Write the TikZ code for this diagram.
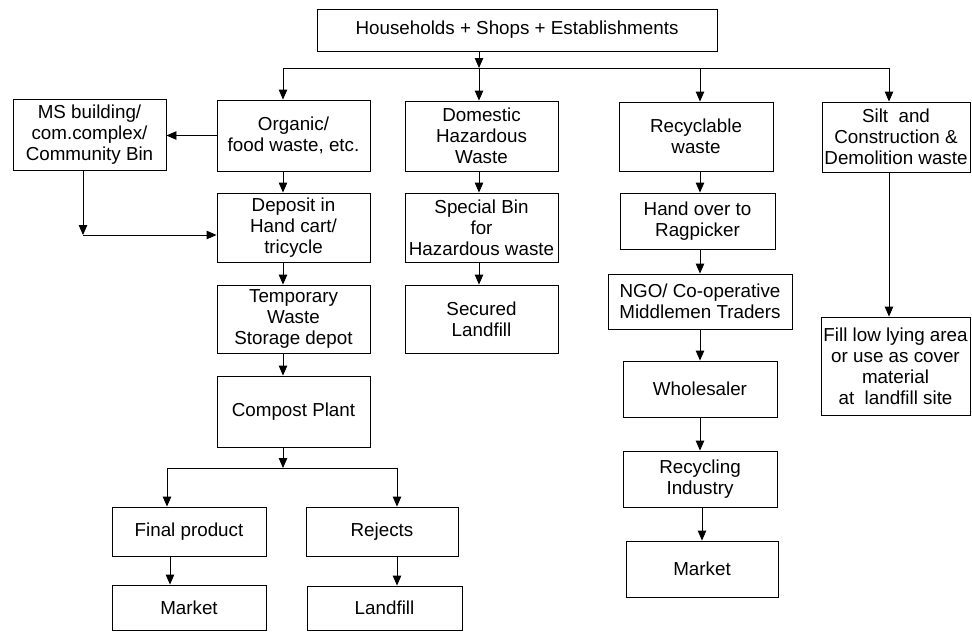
\documentclass[tikz,border=0pt]{standalone}
\usepackage{fontspec}
\setmainfont{Liberation Sans}
\usetikzlibrary{arrows.meta}
\newcommand\mybox[6]{\node[box,minimum width=#4pt,minimum height=#5pt] (#1) at (#2,#3) {#6};}
\begin{document}
\begin{tikzpicture}[x=1pt,y=-1pt,
  box/.style={draw, line width=0.9pt, inner sep=0pt, align=center, font=\fontsize{18.8}{21}\selectfont},
  arr/.style={line width=0.9pt, -{Triangle[length=10pt,width=8.5pt]}},
  ln/.style={line width=0.9pt}]
\useasboundingbox (0,0) rectangle (972,632);
\fill[white] (0,0) rectangle (972,632);
% boxes
\mybox{top}{517}{30}{400}{42}{Households + Shops + Establishments}
\mybox{ms}{89.5}{134.5}{153}{71}{MS building/\\com.complex/\\Community Bin}
\mybox{org}{293.5}{135.5}{153}{71}{Organic/\\food waste, etc.}
\mybox{dep}{293.5}{227.5}{153}{69}{Deposit in\\Hand cart/\\tricycle}
\mybox{tmp}{293.5}{319}{153}{68}{Temporary\\Waste\\Storage depot}
\mybox{cmp}{293.5}{411.5}{153}{71}{Compost Plant}
\mybox{fin}{189}{531.5}{154}{49}{Final product}
\mybox{rej}{382}{531.5}{152}{49}{Rejects}
\mybox{mka}{189}{607.5}{154}{45}{Market}
\mybox{lf}{384.5}{608}{155}{44}{Landfill}
\mybox{dom}{481.5}{136}{153}{70}{Domestic\\Hazardous\\Waste}
\mybox{spb}{481.5}{227.5}{153}{69}{Special Bin\\for\\Hazardous waste}
\mybox{sec}{481.5}{319}{153}{68}{Secured\\Landfill}
\mybox{rcy}{696}{136.5}{154}{69}{Recyclable\\waste}
\mybox{hnd}{697.5}{221}{155}{56}{Hand over to\\Ragpicker}
\mybox{ngo}{700}{301.5}{184}{55}{NGO/ Co-operative\\Middlemen Traders}
\mybox{whs}{700}{389}{154}{56}{Wholesaler}
\mybox{rci}{700}{479}{154}{56}{Recycling\\Industry}
\mybox{mkb}{702}{569}{152}{56}{Market}
\mybox{slt}{896}{137}{148}{70}{Silt~ and\\Construction \&\\Demolition waste}
\mybox{fil}{895.5}{366}{149}{98}{Fill low lying area\\or use as cover\\material\\at~ landfill site}
% coordinates
\coordinate (b1) at (283,68);
\coordinate (b2) at (479,68);
\coordinate (b3) at (700,68);
\coordinate (b4) at (889,68);
\coordinate (k) at (83,235);
\coordinate (s) at (283,468);
\coordinate (sl) at (167,468);
\coordinate (sr) at (397,468);
% connectors
\draw[arr] (top.south -| b2) -- (b2);
\draw[ln] (b1) -- (b4);
\draw[arr] (b1) -- (b1 |- org.north);
\draw[arr] (b2) -- (b2 |- dom.north);
\draw[arr] (b3) -- (b3 |- rcy.north);
\draw[arr] (b4) -- (b4 |- slt.north);
\draw[arr] (org.west) -- (org.west -| ms.east);
\draw[arr] (ms.south -| k) -- (k);
\draw[arr] (k) -- (k -| dep.west);
\draw[arr] (org.south -| b1) -- (b1 |- dep.north);
\draw[arr] (dep.south -| b1) -- (b1 |- tmp.north);
\draw[arr] (tmp.south -| b1) -- (b1 |- cmp.north);
\draw[arr] (cmp.south -| s) -- (s);
\draw[ln] (sl) -- (sr);
\draw[arr] (sl) -- (sl |- fin.north);
\draw[arr] (sr) -- (sr |- rej.north);
\draw[arr] (170,0 |- fin.south) -- (170,0 |- mka.north);
\draw[arr] (sr |- rej.south) -- (sr |- lf.north);
\draw[arr] (dom.south -| b2) -- (b2 |- spb.north);
\draw[arr] (spb.south -| b2) -- (b2 |- sec.north);
\draw[arr] (rcy.south -| b3) -- (b3 |- hnd.north);
\draw[arr] (hnd.south -| b3) -- (b3 |- ngo.north);
\draw[arr] (ngo.south -| b3) -- (b3 |- whs.north);
\draw[arr] (whs.south -| b3) -- (b3 |- rci.north);
\draw[arr] (rci.south -| mkb) -- (mkb.north);
\draw[arr] (slt.south -| b4) -- (b4 |- fil.north);
\end{tikzpicture}
\end{document}
